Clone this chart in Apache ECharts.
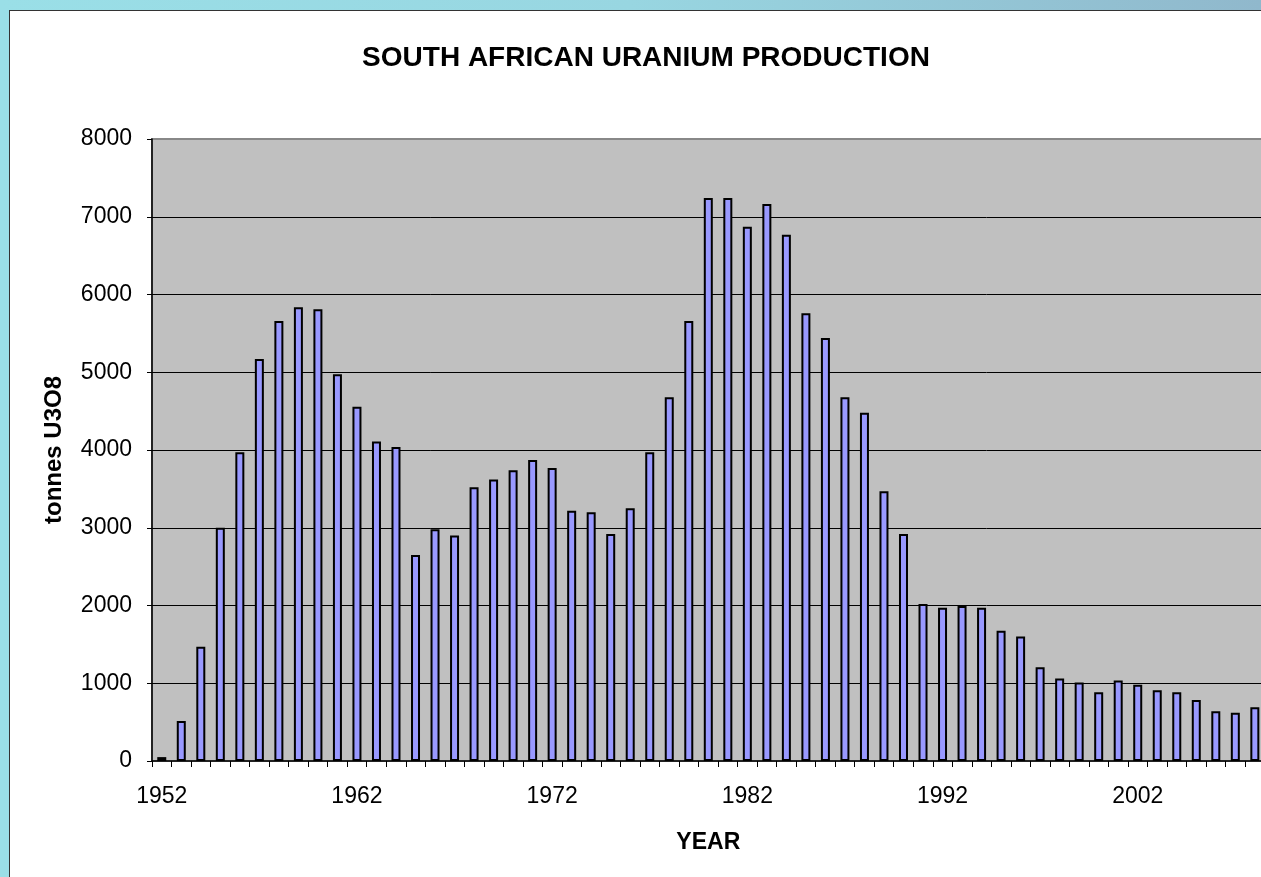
<!DOCTYPE html>
<html>
<head>
<meta charset="utf-8">
<title>South African Uranium Production</title>
<script src="https://cdn.jsdelivr.net/npm/echarts@6/dist/echarts.min.js"></script>
<style>
  html, body {
    margin: 0;
    padding: 0;
    width: 1261px;
    height: 877px;
    overflow: hidden;
    background: linear-gradient(90deg, #9adfe7 0%, #98d6e1 50%, #90b8cc 100%);
  }
  .panel {
    position: absolute;
    left: 9px;
    top: 10px;
    width: 1320px;
    height: 900px;
    background: #fff;
    border: 1px solid #333;
  }
  #chart {
    position: absolute;
    left: 0;
    top: 0;
    width: 1292px;
    height: 877px;
  }
</style>
</head>
<body>
<div class="panel"></div>
<div id="chart"></div>
<script>
const years = []
for (let y = 1952; y <= 2008; y++) years.push(String(y))

// tonnes U3O8
const production = [
  50, 515, 1470, 3000, 3970, 5170, 5660, 5835, 5810, 4975,
  4555, 4110, 4040, 2650, 2980, 2900, 3520, 3620, 3740, 3870,
  3770, 3220, 3200, 2920, 3250, 3970, 4680, 5660, 7240, 7240,
  6870, 7165, 6770, 5760, 5440, 4680, 4480, 3470, 2920, 2020,
  1970, 1995, 1970, 1675, 1600, 1205, 1060, 1010, 885, 1035,
  980, 910, 885, 785, 640, 620, 690
]

const yTicks = { min: 0, max: 8000, step: 1000 }

const font = '"Liberation Sans", Arial, sans-serif'

const chart = echarts.init(document.getElementById('chart'))

chart.setOption({
  animation: false,
  title: {
    text: 'SOUTH AFRICAN URANIUM PRODUCTION',
    left: 'center',
    top: 39,
    textStyle: {
      fontFamily: font,
      fontSize: 28,
      fontWeight: 'bold',
      color: '#000'
    }
  },
  grid: {
    left: 152,
    top: 139,
    width: 1112.6,
    height: 622,
    show: true,
    backgroundColor: '#c0c0c0',
    borderColor: '#888',
    borderWidth: 2
  },
  xAxis: {
    type: 'category',
    data: years,
    boundaryGap: true,
    name: 'YEAR',
    nameLocation: 'middle',
    nameGap: 70,
    nameTextStyle: {
      fontFamily: font,
      fontSize: 23,
      fontWeight: 'bold',
      color: '#000'
    },
    axisLine: { lineStyle: { color: '#000', width: 1.5 } },
    axisTick: {
      show: true,
      interval: 0,
      length: 6,
      lineStyle: { color: '#000' }
    },
    axisLabel: {
      interval: 9,
      margin: 24,
      fontFamily: font,
      fontSize: 23,
      color: '#000'
    },
    splitLine: { show: false }
  },
  yAxis: {
    type: 'value',
    min: yTicks.min,
    max: yTicks.max,
    interval: yTicks.step,
    name: 'tonnes U3O8',
    nameLocation: 'middle',
    nameRotate: 90,
    nameGap: 86,
    nameTextStyle: {
      fontFamily: font,
      fontSize: 24,
      fontWeight: 'bold',
      color: '#000'
    },
    axisLine: { show: true, lineStyle: { color: '#000', width: 1.5 } },
    axisTick: { show: true, length: 5, lineStyle: { color: '#000' } },
    axisLabel: {
      margin: 20,
      fontFamily: font,
      fontSize: 23,
      color: '#000',
      formatter: v => String(v)
    },
    splitLine: {
      show: true,
      showMinLine: false,
      showMaxLine: false,
      lineStyle: { color: '#000', width: 1 }
    }
  },
  series: [{
    type: 'bar',
    data: production,
    barWidth: 9,
    itemStyle: {
      color: '#9999ff',
      borderColor: '#000',
      borderWidth: 2
    }
  }]
})
</script>
</body>
</html>
